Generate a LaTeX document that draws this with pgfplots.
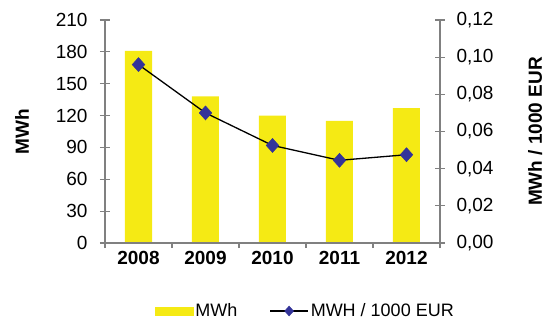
\documentclass[border=0pt]{standalone}
\usepackage{fontspec}
\setmainfont{Liberation Sans}
\usepackage{pgfplots}
\pgfplotsset{compat=1.18}
\definecolor{baryellow}{RGB}{245,234,20}
\definecolor{mkblue}{RGB}{51,51,153}
\definecolor{axgray}{RGB}{128,128,128}
\pgfplotsset{
 base/.style={scale only axis, width=335bp, height=223bp, xmin=-0.5, xmax=4.5,
   /pgf/number format/assume math mode=true,
   axis line style={axgray, line width=1.2bp},
   tick style={axgray, line width=1.2bp},
   tick label style={font=\fontsize{19bp}{22bp}\selectfont},
 },
 lineleg/.style={legend image code/.code={\draw[mark repeat=2,mark phase=2,##1,every mark/.append style={scale=0.7}] plot coordinates {(0bp,0bp) (19bp,0bp) (38bp,0bp)};}},
 barleg/.style={legend image code/.code={\fill[baryellow] (0bp,-4bp) rectangle (38bp,4bp);}},
}
\begin{document}
\begin{tikzpicture}
\path (-105bp,-75bp) rectangle (442bp,243bp);
% bars + category boundary ticks
\begin{axis}[base, axis y line=none, axis x line*=bottom, ymin=0, ymax=210,
  xtick={-0.5,0.5,1.5,2.5,3.5,4.5}, xticklabels={}, tick align=outside, major tick length=5bp]
  \addplot[ybar, bar width=27bp, fill=baryellow, draw=none] coordinates {(0,181) (1,138) (2,120) (3,115) (4,127)};
\end{axis}
% left axis
\begin{axis}[base, axis x line=none, axis y line*=left, ymin=0, ymax=210,
  ytick={0,30,60,90,120,150,180,210}, tick align=center, major tick length=10bp,
  ylabel={MWh},
  every axis y label/.style={at={(axis description cs:-0.248,0.5)}, anchor=center, rotate=90,
    font=\fontsize{19bp}{22bp}\selectfont\bfseries},
  yticklabel style={xshift=-9bp}]
  \addplot[draw=none] coordinates {(0,0)};
\end{axis}
% right axis + line
\begin{axis}[base, axis x line*=bottom, axis y line*=right, ymin=0, ymax=0.12,
  ytick={0,0.02,0.04,0.06,0.08,0.10,0.12},
  scaled y ticks=false,
  yticklabel style={xshift=8bp, /pgf/number format/.cd, fixed, fixed zerofill, precision=2, use comma},
  xtick={0,1,2,3,4}, xticklabels={2008,2009,2010,2011,2012},
  xticklabel style={font=\fontsize{19bp}{22bp}\selectfont\bfseries},
  xtick style={draw=none},
  tick align=center, major tick length=10bp,
  ylabel={MWh / 1000 EUR},
  every axis y label/.style={at={(axis description cs:1.284,0.5)}, anchor=center, rotate=90,
    font=\fontsize{19bp}{22bp}\selectfont\bfseries},
  legend style={draw=none, legend columns=2, at={(axis description cs:0.14,-0.305)}, anchor=west,
    font=\fontsize{18bp}{21bp}\selectfont,
    /tikz/every even column/.append style={column sep=30bp}},
  legend cell align=left]
  \addlegendimage{barleg}
  \addlegendentry{MWh}
  \addplot[black, line width=1.3bp, mark=diamond*, lineleg,
    mark options={fill=mkblue, draw=mkblue, mark size=7bp, xscale=1.2, line width=0.5bp}]
    coordinates {(0,0.096) (1,0.070) (2,0.0525) (3,0.0445) (4,0.0475)};
  \addlegendentry{MWH / 1000 EUR}
\end{axis}
\end{tikzpicture}
\end{document}
